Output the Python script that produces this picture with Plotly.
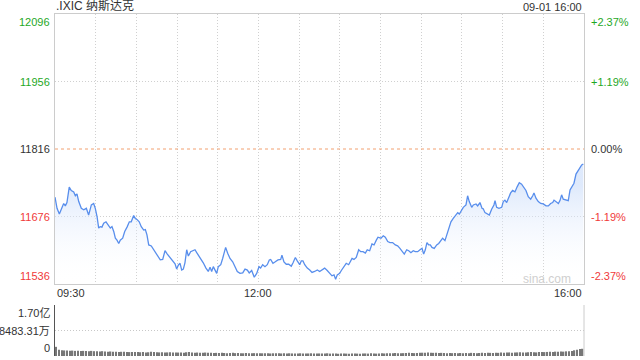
import plotly.graph_objects as go

# ---- data ----
title_text = ".IXIC 纳斯达克"
stamp_text = "09-01 16:00"
prev_close = 11816
y_ticks = [12096, 11956, 11816, 11676, 11536]
pct_ticks = ["+2.37%", "+1.19%", "0.00%", "-1.19%", "-2.37%"]
x_labels = ["09:30", "12:00", "16:00"]
x_label_pos = [0, 150, 390]          # minutes after 09:30
vol_tick_vals = [0, 8483.31, 16966.62]   # 万股
vol_tick_text = ["0", "8483.31万", "1.70亿"]

# minutes after 09:30
minutes = [0, 1.5, 3.2, 4.6, 6.4, 7.6, 8.8, 10.5, 12.0, 13.8, 15.0, 16.2, 17.5, 19.4, 21.2, 23.1, 24.8,
           26.8, 28.5, 29.7, 31.0, 32.2, 33.4, 34.6, 35.9, 37.6, 39.1, 40.8, 42.0, 43.3, 44.5, 45.7,
           47.0, 48.1, 49.9, 51.4, 53.1, 54.8, 56.2, 58.0, 59.2, 60.4, 62.1, 63.6, 65.4, 66.6, 67.8,
           69.1, 71.0, 72.8, 74.5, 75.9, 77.6, 79.4, 81.1, 82.8, 84.8, 86.8, 88.5, 89.7, 90.9, 92.2,
           93.4, 94.6, 95.8, 97.1, 98.3, 100.0, 101.5, 103.2, 104.5, 106.4, 108.1, 109.3, 111.3, 113.0,
           114.3, 115.5, 116.7, 118.0, 119.2, 120.4, 122.2, 123.6, 125.8, 127.3, 129.0, 131.0, 132.7,
           134.4, 136.4, 138.4, 140.1, 141.8, 143.2, 145.0, 146.9, 148.7, 150.4, 151.6, 153.1, 154.8,
           156.5, 158.0, 159.0, 160.7, 162.4, 164.4, 166.4, 167.3, 168.8, 170.5, 172.3, 174.2, 175.5,
           177.2, 178.6, 180.4, 181.6, 182.8, 184.1, 186.0, 187.8, 189.5, 191.4, 193.4, 195.1, 196.8,
           198.8, 200.7, 202.5, 204.2, 205.7, 206.9, 208.1, 209.9, 211.1, 213.1, 214.7, 216.5, 218.0,
           219.0, 220.4, 222.1, 223.9, 225.4, 227.1, 228.8, 230.2, 232.0, 233.7, 235.2, 236.9, 238.1,
           240.3, 242.0, 243.5, 245.3, 247.0, 248.9, 250.9, 252.6, 254.3, 255.8, 257.5, 259.3, 260.8,
           262.4, 264.1, 265.6, 267.4, 269.1, 270.6, 271.8, 273.0, 274.2, 275.5, 276.7, 277.9, 279.6,
           281.4, 282.9, 284.6, 285.8, 287.5, 288.8, 290.2, 291.9, 293.6, 295.1, 296.9, 298.1, 299.3,
           301.0, 303.0, 304.2, 305.4, 307.2, 308.4, 310.4, 311.6, 313.3, 314.8, 315.7, 317.0, 318.7,
           320.2, 321.9, 323.6, 324.4, 325.6, 327.3, 329.3, 330.5, 331.7, 333.0, 334.2, 335.9, 337.4,
           339.1, 340.8, 342.3, 344.0, 345.2, 347.2, 348.9, 350.7, 352.2, 353.1, 354.6, 356.3, 358.1,
           360.0, 362.0, 363.7, 365.4, 366.9, 367.9, 369.3, 371.1, 372.3, 373.5, 374.7, 376.7, 378.4,
           379.7, 380.9, 382.6, 384.1, 385.8, 387.0, 388.3, 389.5]

prices = [11716, 11693, 11681, 11691, 11703, 11698, 11705, 11737, 11730, 11727, 11719, 11723, 11707,
          11693, 11690, 11693, 11679, 11700, 11703, 11693, 11676, 11652, 11655, 11654, 11662, 11665,
          11658, 11652, 11655, 11645, 11631, 11627, 11620, 11627, 11631, 11645, 11654, 11665, 11665,
          11678, 11672, 11670, 11665, 11655, 11648, 11649, 11638, 11617, 11615, 11607, 11600, 11591,
          11586, 11587, 11605, 11598, 11591, 11586, 11578, 11567, 11575, 11579, 11565, 11567, 11580,
          11607, 11594, 11603, 11605, 11607, 11601, 11593, 11586, 11580, 11569, 11562, 11571, 11562,
          11572, 11565, 11558, 11572, 11576, 11589, 11612, 11600, 11589, 11582, 11571, 11562, 11558,
          11559, 11567, 11565, 11559, 11564, 11550, 11558, 11572, 11569, 11576, 11572, 11576, 11586,
          11587, 11579, 11582, 11586, 11587, 11596, 11582, 11577, 11577, 11573, 11580, 11591, 11584,
          11576, 11584, 11584, 11576, 11569, 11565, 11560, 11562, 11565, 11562, 11565, 11569, 11564,
          11557, 11553, 11555, 11546, 11555, 11558, 11564, 11571, 11579, 11576, 11586, 11589, 11587,
          11591, 11607, 11603, 11603, 11600, 11607, 11605, 11619, 11617, 11627, 11633, 11631, 11636,
          11633, 11624, 11622, 11622, 11617, 11615, 11610, 11603, 11598, 11607, 11605, 11601, 11605,
          11603, 11603, 11607, 11610, 11598, 11607, 11622, 11617, 11617, 11612, 11610, 11617, 11620,
          11627, 11631, 11626, 11638, 11654, 11665, 11672, 11677, 11684, 11681, 11688, 11695, 11700,
          11719, 11707, 11695, 11700, 11702, 11698, 11705, 11693, 11692, 11684, 11681, 11679, 11691,
          11700, 11709, 11695, 11693, 11695, 11707, 11710, 11705, 11714, 11725, 11730, 11727, 11738,
          11746, 11743, 11737, 11730, 11717, 11712, 11719, 11725, 11714, 11707, 11703, 11702, 11698,
          11698, 11703, 11705, 11710, 11707, 11703, 11709, 11721, 11712, 11710, 11709, 11731, 11738,
          11745, 11764, 11771, 11776, 11783, 11785]

# volume per 2-minute bar, in 万股
volumes = [3050, 2100, 1900, 1850, 1800, 1750, 1800, 1700, 1750, 1650, 1700, 1650, 1600, 1700, 1600,
           1550, 1500, 1600, 1500, 1450, 1500, 1400, 1450, 1350, 1400, 1450, 1350, 1300, 1350, 1300,
           1300, 1250, 1300, 1200, 1250, 1400, 1300, 1250, 1200, 1250, 1150, 1200, 1250, 1150, 1200,
           1150, 1200, 1100, 1250, 1300, 1150, 1100, 1150, 1050, 1100, 1150, 1050, 1100, 1000, 1050,
           1000, 1050, 1000, 950, 1000, 1050, 950, 1000, 950, 900, 1000, 950, 900, 950, 900,
           950, 900, 950, 900, 850, 900, 950, 900, 850, 900, 850, 900, 850, 800, 850,
           900, 850, 800, 850, 900, 850, 800, 850, 800, 850, 900, 800, 850, 800, 750,
           800, 850, 800, 750, 800, 850, 800, 750, 800, 850, 800, 900, 850, 800, 850,
           900, 850, 900, 950, 900, 1000, 950, 900, 950, 1000, 1050, 1000, 950, 1000, 1050,
           1100, 1050, 1150, 1100, 1050, 1100, 1000, 1050, 1000, 950, 1000, 950, 1000, 950, 1000,
           950, 1000, 950, 1050, 1000, 950, 1000, 1050, 1000, 1100, 1050, 1000, 1100, 1050, 1150,
           1100, 1150, 1200, 1100, 1150, 1200, 1250, 1150, 1200, 1250, 1300, 1250, 1200, 1300, 1350,
           1300, 1350, 1400, 1350, 1450, 1400, 1500, 1450, 1550, 1600, 1700, 1900, 2100, 2300, 2400]
vol_minutes = [2 * i + 1 for i in range(len(volumes))]

# ---- styling ----
GREEN = "#1fa81f"
RED = "#f03a3a"
DARK = "#333333"
FONT = "Liberation Sans, Arial, Noto Sans CJK SC, sans-serif"
label_colors = [GREEN, GREEN, DARK, RED, RED]
GRID_DASH = "1px,2px"

main_dom = [0.2105, 1.0]
vol_dom = [0.0, 0.1491]

fig = go.Figure()

fig.add_trace(go.Scatter(
    x=minutes, y=prices, mode="lines",
    line=dict(color="rgb(88,142,236)", width=1.3),
    fill="tozeroy",
    fillgradient=dict(type="vertical",
                      colorscale=[[0, "rgba(255,255,255,0)"], [1, "rgba(205,222,250,0.65)"]],
                      start=y_ticks[-1], stop=11740),
    hoverinfo="skip", showlegend=False, xaxis="x", yaxis="y"))

fig.add_trace(go.Bar(
    x=vol_minutes, y=volumes, marker=dict(color="#777777", line=dict(width=0)),
    hoverinfo="skip", showlegend=False, xaxis="x2", yaxis="y2"))

fig.update_layout(
    width=640, height=360,
    margin=dict(l=55, r=56, t=14, b=4),
    paper_bgcolor="white", plot_bgcolor="white",
    font=dict(family=FONT, size=11, color=DARK),
    bargap=0.5,
    xaxis=dict(domain=[0, 1], range=[0, 390], tickvals=list(range(0, 391, 30)),
               showticklabels=False, showgrid=True, gridcolor="#d0d0d0", griddash=GRID_DASH,
               gridwidth=1, showline=True, mirror=True, linecolor="#cccccc", linewidth=1,
               zeroline=False, anchor="y", fixedrange=True),
    yaxis=dict(domain=main_dom, range=[y_ticks[-1], y_ticks[0]], tickvals=[y_ticks[1], y_ticks[3]],
               showticklabels=False, showgrid=True, gridcolor="#d0d0d0", griddash=GRID_DASH,
               showline=True, mirror=True, linecolor="#cccccc", linewidth=1, zeroline=False,
               anchor="x", fixedrange=True),
    xaxis2=dict(domain=[0, 1], range=[0, 390], showticklabels=False, showgrid=False,
                showline=False, zeroline=False, anchor="y2", fixedrange=True),
    yaxis2=dict(domain=vol_dom, range=[0, vol_tick_vals[-1]], tickvals=vol_tick_vals[1:],
                showticklabels=False, showgrid=True, gridcolor="#c8c8c8", griddash=GRID_DASH,
                showline=True, linecolor="#555555", linewidth=1, zeroline=False,
                anchor="x2", fixedrange=True),
)

# previous close dashed line
fig.add_shape(type="line", xref="x", yref="y", x0=0, x1=390, y0=prev_close, y1=prev_close,
              line=dict(color="#f2a070", width=1, dash="3px,3px"), layer="above")
# right border of volume panel
fig.add_shape(type="line", xref="paper", yref="paper", x0=1, x1=1, y0=vol_dom[0], y1=vol_dom[1],
              line=dict(color="#cccccc", width=1))

ann = []
anchors = ["top", "middle", "middle", "middle", "bottom"]
for v, p, c, a in zip(y_ticks, pct_ticks, label_colors, anchors):
    ann.append(dict(xref="paper", yref="y", x=0, y=v, text=str(v), showarrow=False,
                    xanchor="right", yanchor=a, xshift=-3, font=dict(color=c, size=11)))
    ann.append(dict(xref="paper", yref="y", x=1, y=v, text=p, showarrow=False,
                    xanchor="left", yanchor=a, xshift=5, font=dict(color=c, size=11)))

for lbl, pos, xa in zip(x_labels, x_label_pos, ["left", "center", "right"]):
    ann.append(dict(xref="x", yref="paper", x=pos, y=main_dom[0], text=lbl, showarrow=False,
                    xanchor=xa, yanchor="top", yshift=-1, font=dict(color=DARK, size=11)))

for v, t, a in zip(vol_tick_vals, vol_tick_text, ["bottom", "middle", "top"]):
    ann.append(dict(xref="paper", yref="y2", x=0, y=v, text=t, showarrow=False,
                    xanchor="right", yanchor=a, xshift=-3, font=dict(color=DARK, size=11)))

ann.append(dict(xref="paper", yref="paper", x=0, y=1, text=title_text, showarrow=False,
                xanchor="left", yanchor="bottom", xshift=-1, yshift=-1,
                font=dict(color=DARK, size=12, family="Liberation Sans, Noto Sans CJK SC")))
ann.append(dict(xref="paper", yref="paper", x=1, y=1, text=stamp_text, showarrow=False,
                xanchor="right", yanchor="bottom", yshift=-1, font=dict(color=DARK, size=11)))
ann.append(dict(xref="x", yref="y", x=382, y=11546, text="sina.com", showarrow=False,
                xanchor="right", yanchor="middle", font=dict(color="#cfcfcf", size=12)))

fig.update_layout(annotations=ann)

fig.write_html("out.html", config={"displayModeBar": False},
               post_script="document.body.style.margin='0';document.body.style.overflow='hidden';")
